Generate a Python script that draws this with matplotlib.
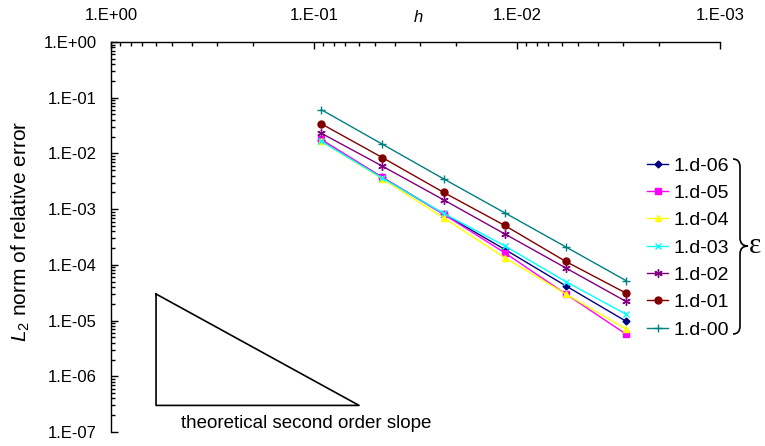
#!/usr/bin/env python
# coding: utf-8

"""
Convergence of the L2 relative error against mesh size h, one curve per
epsilon, with a second order slope triangle for reference.
"""

import numpy as np
import matplotlib
matplotlib.use("Agg")
import matplotlib.pyplot as plt
from matplotlib.path import Path
from matplotlib.patches import PathPatch
from matplotlib.ticker import LogLocator, FuncFormatter, NullFormatter

# mesh sizes (h halves each refinement)
h = [0.092, 0.046, 0.023, 0.0115, 0.00575, 0.0029]

labels = ["1.d-06", "1.d-05", "1.d-04", "1.d-03", "1.d-02", "1.d-01", "1.d-00"]
err_06 = [0.0172, 0.0037, 8.2e-4, 1.9e-4, 4.2e-5, 9.7e-6]
err_05 = [0.0178, 0.0037, 8.1e-4, 1.65e-4, 3.0e-5, 5.7e-6]
err_04 = [0.0165, 0.0035, 7.0e-4, 1.35e-4, 3.0e-5, 7.0e-6]
err_03 = [0.0165, 0.0036, 8.4e-4, 2.2e-4, 5.0e-5, 1.3e-5]
err_02 = [0.023, 0.0059, 0.00147, 3.6e-4, 8.8e-5, 2.2e-5]
err_01 = [0.034, 0.0084, 0.0020, 5.1e-4, 1.15e-4, 3.1e-5]
err_00 = [0.061, 0.0146, 0.0035, 8.6e-4, 2.1e-4, 5.2e-5]

# theoretical slope triangle
tri_h = [0.6, 0.6, 0.06, 0.6]
tri_err = [3e-5, 3e-7, 3e-7, 3e-5]


def main():

    plt.rcParams["font.family"] = ["Liberation Sans", "DejaVu Sans"]
    plt.rcParams["mathtext.fontset"] = "custom"
    plt.rcParams["mathtext.rm"] = "Liberation Sans"
    plt.rcParams["mathtext.it"] = "Liberation Sans:italic"

    W, H = 765, 446
    fig = plt.figure(figsize=(W / 100, H / 100), dpi=100)
    ax = fig.add_axes([111 / W, 1 - 432 / H, (720 - 111) / W, (432 - 42) / H])

    series = [err_06, err_05, err_04, err_03, err_02, err_01, err_00]
    styles = [
        ("#000080", "D", 3.5),
        ("#ff00ff", "s", 4.5),
        ("#ffff00", "^", 5),
        ("#00ffff", "x", 5),
        ("#800080", (6, 2, 0), 6),
        ("#800000", "o", 5),
        ("#008080", "+", 6),
    ]
    for err, lab, (col, mk, ms) in zip(series, labels, styles):
        ax.plot(h, err, color=col, marker=mk, markersize=ms, lw=1.0,
                markeredgewidth=1.0, label=lab)

    ax.plot(tri_h, tri_err, color="black", lw=1.2)
    ax.text(0.45, 1.4e-7, "theoretical second order slope", fontsize=13.5,
            ha="left", va="center")

    ax.set_xscale("log")
    ax.set_yscale("log")
    ax.set_xlim(1.0, 1e-3)
    ax.set_ylim(1e-7, 1.0)

    fmt = FuncFormatter(lambda v, p: "1.E%+03d" % int(round(np.log10(v))))
    for axis in (ax.xaxis, ax.yaxis):
        axis.set_major_locator(LogLocator(base=10, numticks=12))
        axis.set_minor_locator(LogLocator(base=10, subs=np.arange(2, 10),
                                          numticks=12))
        axis.set_major_formatter(fmt)
        axis.set_minor_formatter(NullFormatter())

    ax.xaxis.tick_top()
    ax.tick_params(which="both", direction="in", top=True, bottom=False,
                   right=False, left=True, labeltop=True, labelbottom=False,
                   labelsize=12, width=1.0, colors="black")
    ax.tick_params(which="major", length=5)
    ax.tick_params(which="minor", length=3)
    ax.tick_params(axis="x", pad=14)
    ax.tick_params(axis="y", pad=10)

    ax.spines["right"].set_visible(False)
    ax.spines["bottom"].set_visible(False)
    ax.spines["left"].set_linewidth(1.0)
    ax.spines["top"].set_linewidth(1.0)

    fig.text(418 / W, 1 - 17 / H, "h", style="italic", fontsize=12,
             ha="center", va="center")
    fig.text(21 / W, 1 - 231 / H, "$L_2$ norm of relative error",
             rotation=90, fontsize=15, ha="center", va="center")

    ax.legend(loc="upper left", bbox_to_anchor=(647 / W, 1 - 157 / H),
              bbox_transform=fig.transFigure, frameon=False,
              fontsize=14, handlelength=1.08, handletextpad=0.26,
              labelspacing=0.5, borderpad=0, borderaxespad=0)

    # curly brace grouping the legend entries
    xe, xs, xt = 733, 740, 748
    yt, yb, yc, r = 159, 334, 246, 8
    pts = [(xe, yt), (xs, yt), (xs, yt + r), (xs, yc - r), (xs, yc), (xt, yc),
           (xs, yc), (xs, yc + r), (xs, yb - r), (xs, yb), (xe, yb)]
    codes = [Path.MOVETO, Path.CURVE3, Path.CURVE3, Path.LINETO, Path.CURVE3,
             Path.CURVE3, Path.CURVE3, Path.CURVE3, Path.LINETO, Path.CURVE3,
             Path.CURVE3]
    verts = [(x / W, 1 - y / H) for x, y in pts]
    brace = PathPatch(Path(verts, codes), transform=fig.transFigure,
                      fill=False, lw=1.2, edgecolor="black")
    fig.patches.append(brace)
    fig.text(749 / W, 1 - 246 / H, "\u03b5", fontsize=21,
             family=["Liberation Serif", "DejaVu Serif"],
             ha="left", va="center")

    fig.savefig("out.png", dpi=100)


if __name__ == "__main__":

    main()
